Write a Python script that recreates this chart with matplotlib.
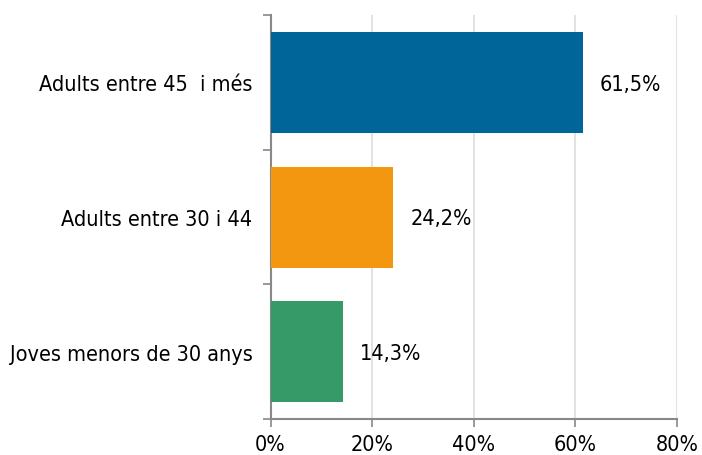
import matplotlib
matplotlib.use('Agg')
import matplotlib.pyplot as plt
from matplotlib.ticker import FuncFormatter

categories = ['Adults entre 45  i més', 'Adults entre 30 i 44', 'Joves menors de 30 anys']
values = [61.5, 24.2, 14.3]
colors = ['#006699', '#f39610', '#359a68']
value_labels = ['61,5%', '24,2%', '14,3%']
x_ticks = [0, 20, 40, 60, 80]

plt.rcParams['font.family'] = ['DejaVu Sans']
plt.rcParams['font.stretch'] = 'condensed'
FS = 15.5

fig = plt.figure(figsize=(7.02, 4.56), dpi=100)
ax = fig.add_axes([270.5 / 702, 36 / 456, 406.5 / 702, 404 / 456])

y = list(range(len(categories)))
ax.barh(y, values, height=0.75, color=colors, zorder=3)
for yi, v, lab in zip(y, values, value_labels):
    ax.text(v + 3.3, yi + 0.01, lab, va='center', ha='left', fontsize=FS)

ax.set_xlim(0, 80)
ax.set_ylim(2.5, -0.5)
ax.set_xticks(x_ticks)
ax.xaxis.set_major_formatter(FuncFormatter(lambda v, p: f'{v:.0f}%'))
ax.set_yticks(y)
ax.set_yticklabels(categories, fontsize=FS)
ax.tick_params(axis='y', length=0, pad=13)
ax.set_yticks([-0.5, 0.5, 1.5, 2.5], minor=True)
ax.tick_params(axis='y', which='minor', length=6, width=1.2, color='#888888')
ax.tick_params(axis='x', length=6, width=1.2, color='#888888', labelsize=FS, pad=5)

for x in x_ticks[1:]:
    ax.axvline(x, color='#dddddd', lw=1.2, zorder=1)

for s in ['top', 'right']:
    ax.spines[s].set_visible(False)
for s in ['left', 'bottom']:
    ax.spines[s].set_color('#888888')
    ax.spines[s].set_linewidth(1.5)

fig.savefig('out.png', dpi=100)
